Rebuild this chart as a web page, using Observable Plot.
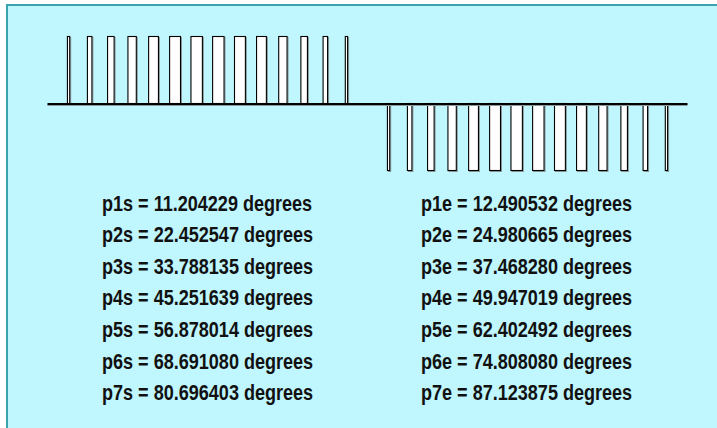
<!DOCTYPE html>
<html>
<head>
<meta charset="utf-8">
<script src="https://cdn.jsdelivr.net/npm/d3@7"></script>
<script src="https://cdn.jsdelivr.net/npm/@observablehq/plot@0.6"></script>
<style>
  html, body { margin: 0; padding: 0; background: #ffffff; }
  #wrap { position: relative; width: 717px; height: 428px; overflow: hidden; background: #ffffff; }
  #box { position: absolute; left: 6px; top: 4px; width: 760px; height: 480px;
         background: #c0f6fd; border-top: 2px solid #3aa4ae; border-left: 2px solid #3aa4ae; }
  #chart { position: absolute; left: 0; top: 0; }
  #chart svg { background: transparent; }
  .col { position: absolute; top: 187.6px; font-family: "Liberation Sans", Arial, sans-serif;
         font-weight: bold; font-size: 22px; line-height: 31.6px; color: #111; white-space: nowrap;
         transform: scaleX(0.82); transform-origin: 0 0; }
</style>
</head>
<body>
<div id="wrap">
  <div id="box"></div>
  <div id="chart"></div>
  <div id="colS" class="col" style="left:101.5px"></div>
  <div id="colE" class="col" style="left:421px"></div>
</div>
<script>
// Switching angles (degrees) for the first quarter wave
const pStart = [11.204229, 22.452547, 33.788135, 45.251639, 56.878014, 68.691080, 80.696403];
const pEnd   = [12.490532, 24.980665, 37.468280, 49.947019, 62.402492, 74.808080, 87.123875];
const period = [0, 360];          // one full cycle, degrees
const half = 180;
const levels = [1, -1];           // positive half, negative half

// Build the pulse edges: quarter-wave symmetry, then half-wave (negative) symmetry
const firstHalf = [];
pStart.forEach((s, i) => firstHalf.push({a: s, b: pEnd[i]}));
pStart.slice().reverse().forEach((s, j) => {
  const i = pStart.length - 1 - j;
  firstHalf.push({a: half - pEnd[i], b: half - pStart[i]});
});
const pulses = [];
levels.forEach((lv, k) => firstHalf.forEach(p => pulses.push({a: p.a + k * half, b: p.b + k * half, level: lv})));

const baseline = [{y: 0, a: period[0], b: period[1]}];

const plot = Plot.plot({
  width: 717,
  height: 190,
  margin: 0,
  x: {domain: period, range: [47.5, 687.5], axis: null},
  y: {domain: [-1, 1], range: [170.5, 36.5], axis: null},
  marks: [
    // soft shadow
    Plot.rect(pulses, {x1: "a", x2: "b", y1: 0, y2: "level", fill: "none", stroke: "#8a9a9c", strokeWidth: 1, dx: 1, dy: 1}),
    Plot.rect(pulses, {x1: "a", x2: "b", y1: 0, y2: "level", fill: "white", stroke: "black", strokeWidth: 1.1}),
    Plot.ruleY(baseline, {y: "y", x1: "a", x2: "b", stroke: "#8a9a9c", strokeWidth: 1.5, dy: 1.2}),
    Plot.ruleY(baseline, {y: "y", x1: "a", x2: "b", stroke: "black", strokeWidth: 2})
  ]
});
document.getElementById("chart").appendChild(plot);

const fmt = v => v.toFixed(6);
document.getElementById("colS").innerHTML = pStart.map((v, i) => `<div>p${i + 1}s = ${fmt(v)} degrees</div>`).join("");
document.getElementById("colE").innerHTML = pEnd.map((v, i) => `<div>p${i + 1}e = ${fmt(v)} degrees</div>`).join("");
</script>
</body>
</html>
